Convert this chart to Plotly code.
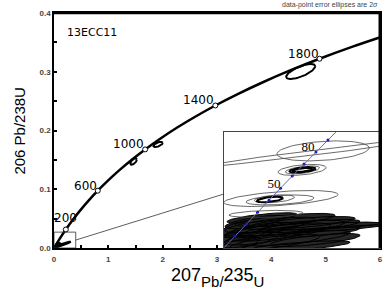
import numpy as np
import plotly.graph_objects as go

# ---------------- data ----------------
# Wetherill concordia (ages in Ma) – ratio values
conc_age = [0, 100, 200, 300, 400, 500, 600, 700, 800, 900, 1000, 1100, 1200,
            1300, 1400, 1500, 1600, 1700, 1800, 1900, 2000]
conc_x = [0.0, 0.10350, 0.21770, 0.34375, 0.48280, 0.63627, 0.80560, 0.99245,
          1.19865, 1.42638, 1.67741, 1.95463, 2.26031, 2.59772, 2.96996,
          3.38096, 3.83450, 4.33480, 4.88700, 5.49600, 6.16870]
conc_y = [0.0, 0.015633, 0.031511, 0.047638, 0.064016, 0.080650, 0.097544,
          0.11470, 0.13213, 0.14983, 0.16780, 0.18605, 0.20460, 0.22343,
          0.24258, 0.26197, 0.28171, 0.30175, 0.32211, 0.34278, 0.36375]

mark_age = [200, 600, 1000, 1400, 1800]
mark_x = [0.21770, 0.80560, 1.67741, 2.96996, 4.88700]
mark_y = [0.031511, 0.097544, 0.16780, 0.24258, 0.32211]

# inset concordia (ages 0-100 Ma)
ins_age = [0, 10, 20, 30, 40, 50, 60, 70, 80, 90, 100]
ins_x = [0.0, 0.009897, 0.019892, 0.029986, 0.040180, 0.050475, 0.060872,
         0.071371, 0.081975, 0.092683, 0.103497]
ins_y = [0.0, 0.0015525, 0.0031073, 0.0046645, 0.0062243, 0.0077865,
         0.0093512, 0.010918, 0.012488, 0.014061, 0.015633]
ins_label_age = ["50", "80"]
ins_label_x = [0.0446, 0.0749]
ins_label_y = [0.0082, 0.0130]

# main-plot error ellipses (2 sigma): centre, half-extent, correlation
main_cx = [4.54, 1.464, 1.915, 0.16]
main_cy = [0.3004, 0.1472, 0.1762, 0.0060]
main_sx = [0.267, 0.060, 0.085, 0.15]
main_sy = [0.0128, 0.0055, 0.0045, 0.0050]
main_rho = [0.70, 0.60, 0.60, 0.95]
# young grains clustering at the origin (filled blob)
blob_cx = [0.05, 0.07, 0.03]
blob_cy = [0.004, 0.005, 0.003]
blob_sx = [0.06, 0.05, 0.03]
blob_sy = [0.005, 0.004, 0.003]
blob_rho = [0.80, 0.80, 0.80]

# inset: open grey ellipses
grey_cx = [0.0883, 0.0856, 0.0696, 0.0700, 0.0508, 0.0500, 0.0450, 0.0375]
grey_cy = [0.01263, 0.0125, 0.01016, 0.01016, 0.00644, 0.00625, 0.00640, 0.00443]
grey_sx = [0.0410, 0.1200, 0.0214, 0.0152, 0.0508, 0.0303, 0.0178, 0.0330]
grey_sy = [0.00130, 0.00218, 0.00072, 0.00052, 0.00104, 0.00065, 0.00052, 0.00046]
grey_rho = [0.30, 0.99, 0.40, 0.50, 0.50, 0.40, 0.40, 0.30]
# inset: dark (thick) ellipses
dark_cx = [0.0700, 0.0700, 0.0410]
dark_cy = [0.01016, 0.01016, 0.00631]
dark_sx = [0.0116, 0.0089, 0.0116]
dark_sy = [0.00036, 0.00026, 0.00036]
dark_rho = [0.50, 0.50, 0.50]
# inset: dense cluster of young analyses
clus_cx = [0.0232, 0.0366, 0.0500, 0.0321, 0.0589, 0.0410, 0.0678, 0.0277,
           0.0544, 0.0143, 0.0767, 0.0455, 0.0633, 0.0187, 0.0856, 0.0678,
           0.0339, 0.0946, 0.0098, 0.0812, 0.0696]
clus_cy = [0.00104, 0.00156, 0.00208, 0.00234, 0.00260, 0.00299, 0.00325,
           0.00338, 0.00365, 0.00052, 0.00286, 0.00078, 0.00130, 0.00182,
           0.00208, 0.00026, 0.00391, 0.00286, 0.00260, 0.00104, 0.00221]
clus_sx = [0.0268, 0.0357, 0.0446, 0.0312, 0.0491, 0.0401, 0.0491, 0.0268,
           0.0446, 0.0178, 0.0446, 0.0401, 0.0491, 0.0223, 0.0357, 0.0446,
           0.0312, 0.0446, 0.0125, 0.0401, 0.0803]
clus_sy = [0.00102, 0.00118, 0.00118, 0.00102, 0.00102, 0.00102, 0.00085,
           0.00085, 0.00085, 0.00085, 0.00085, 0.00102, 0.00102, 0.00102,
           0.00068, 0.00068, 0.00068, 0.00051, 0.00085, 0.00085, 0.00085]
clus_rho = [0.7] * 20 + [0.95]

zoom_box = [0.0, 0.40, 0.0, 0.027]  # x0, x1, y0, y1 of the enlarged window
link_end = [3.13, 0.092]            # where the guide line meets the inset

# ---------------- helpers ----------------
def ellipses(cx, cy, sx, sy, rho, n=90):
    t = np.linspace(0, 2 * np.pi, n)
    xs, ys = [], []
    for a, b, c, d, r in zip(cx, cy, sx, sy, rho):
        xs += list(a + c * np.cos(t)) + [None]
        ys += list(b + d * (r * np.cos(t) + np.sqrt(1 - r * r) * np.sin(t))) + [None]
    return xs, ys

fig = go.Figure()

# main concordia
fig.add_trace(go.Scatter(x=conc_x, y=conc_y, mode="lines", line=dict(color="black", width=2.5, shape="spline"),
                         hoverinfo="skip", showlegend=False))

# main ellipses
ex, ey = ellipses(blob_cx, blob_cy, blob_sx, blob_sy, blob_rho)
fig.add_trace(go.Scatter(x=ex, y=ey, mode="lines", fill="toself", fillcolor="black",
                         line=dict(color="black", width=1.5), showlegend=False))
ex, ey = ellipses(main_cx, main_cy, main_sx, main_sy, main_rho)
fig.add_trace(go.Scatter(x=ex, y=ey, mode="lines", line=dict(color="black", width=2), showlegend=False))

# age markers
fig.add_trace(go.Scatter(x=mark_x, y=mark_y, mode="markers",
                         marker=dict(symbol="circle", size=5, color="white", line=dict(color="black", width=1)),
                         showlegend=False))

# inset traces
ex, ey = ellipses(clus_cx, clus_cy, clus_sx, clus_sy, clus_rho)
fig.add_trace(go.Scatter(x=ex, y=ey, mode="lines", fill="toself", fillcolor="rgba(0,0,0,0.85)",
                         line=dict(color="black", width=1), xaxis="x2", yaxis="y2", showlegend=False))
ex, ey = ellipses(grey_cx, grey_cy, grey_sx, grey_sy, grey_rho)
fig.add_trace(go.Scatter(x=ex, y=ey, mode="lines", line=dict(color="#444444", width=0.8),
                         xaxis="x2", yaxis="y2", showlegend=False))
ex, ey = ellipses(dark_cx, dark_cy, dark_sx, dark_sy, dark_rho)
fig.add_trace(go.Scatter(x=ex, y=ey, mode="lines", line=dict(color="black", width=2),
                         xaxis="x2", yaxis="y2", showlegend=False))
fig.add_trace(go.Scatter(x=ins_x, y=ins_y, mode="lines+markers",
                         line=dict(color="#6a6ab0", width=1),
                         marker=dict(size=3, color="#1a1acc"),
                         xaxis="x2", yaxis="y2", showlegend=False))
fig.add_trace(go.Scatter(x=ins_label_x, y=ins_label_y, mode="text", text=ins_label_age,
                         textfont=dict(family="Liberation Serif", size=13, color="black"),
                         xaxis="x2", yaxis="y2", showlegend=False))

# ---------------- layout ----------------
tickfont = dict(family="Liberation Sans", size=8, color="#444444", weight="bold")
fig.update_layout(
    width=388, height=294,
    margin=dict(l=54, r=8, t=13, b=46, autoexpand=False),
    paper_bgcolor="white", plot_bgcolor="white",
    showlegend=False,
    xaxis=dict(range=[0, 6], tickvals=[0, 1, 2, 3, 4, 5, 6], ticks="inside", ticklen=3, tickwidth=1.5,
               tickcolor="black", minor=dict(ticks="inside", dtick=0.5, ticklen=3, tickwidth=1.5, tickcolor="black"),
               showline=True, linecolor="black", linewidth=2, mirror=True, showgrid=False, zeroline=False,
               tickfont=tickfont, ticklabelstandoff=2, automargin=False),
    yaxis=dict(range=[0, 0.4], tickvals=[0, 0.1, 0.2, 0.3, 0.4], tickformat=".1f", ticks="inside",
               ticklen=3, tickwidth=1.5, tickcolor="black",
               minor=dict(ticks="inside", dtick=0.05, ticklen=3, tickwidth=1.5, tickcolor="black"),
               showline=True, linecolor="black", linewidth=1.5, mirror=True, showgrid=False, zeroline=False,
               tickfont=tickfont, automargin=False),
    xaxis2=dict(domain=[0.521, 1.0], anchor="y2", range=[0, 0.139], showticklabels=False, ticks="",
                showline=True, linecolor="#444444", linewidth=1, mirror=True, showgrid=False, zeroline=False,
                automargin=False),
    yaxis2=dict(domain=[0.0, 0.494], anchor="x2", range=[0, 0.0151], showticklabels=False, ticks="",
                showline=True, linecolor="#444444", linewidth=1, mirror=True, showgrid=False, zeroline=False,
                automargin=False),
)

# zoom window and guide line
fig.add_shape(type="rect", xref="x", yref="y", x0=zoom_box[0], x1=zoom_box[1], y0=zoom_box[2], y1=zoom_box[3],
              line=dict(color="#333333", width=0.8))
fig.add_shape(type="line", xref="x", yref="y", x0=zoom_box[1], y0=(zoom_box[2] + zoom_box[3]) / 2,
              x1=link_end[0], y1=link_end[1], line=dict(color="#333333", width=0.8))
# heavier right / top frame
fig.add_shape(type="line", xref="paper", yref="paper", x0=1, x1=1, y0=0, y1=1, line=dict(color="black", width=3))
fig.add_shape(type="line", xref="paper", yref="paper", x0=0, x1=1, y0=1, y1=1, line=dict(color="black", width=2.5))

# age labels
for a, x, y in zip(mark_age, mark_x, mark_y):
    if a == 200:
        fig.add_annotation(x=x, y=y, text=str(a), showarrow=False, xanchor="center", yanchor="bottom",
                           yshift=2, font=dict(family="DejaVu Sans", size=12, color="black"))
    else:
        fig.add_annotation(x=x, y=y, text=str(a), showarrow=False, xanchor="right", yanchor="bottom",
                           xshift=1, yshift=-4, font=dict(family="DejaVu Sans", size=12, color="black"))

fig.add_annotation(xref="paper", yref="paper", x=0.034, y=0.917, text="13ECC11", showarrow=False,
                   xanchor="left", yanchor="middle", font=dict(family="DejaVu Sans", size=11, color="black"))
fig.add_annotation(xref="paper", yref="paper", x=1.0, y=1.036, text="data-point error ellipses are 2σ",
                   showarrow=False, xanchor="right", yanchor="middle",
                   font=dict(family="Liberation Sans", size=7, color="#444444"))

big = '<sup><span style="font-size:18px">{}</span></sup>'
fig.add_annotation(xref="paper", yref="paper", x=0.5, y=-0.125,
                   text=big.format("207") + "Pb/" + big.format("235") + "U",
                   showarrow=False, xanchor="center", yanchor="middle",
                   font=dict(family="Liberation Sans", size=15, color="black"))
fig.add_annotation(xref="paper", yref="paper", x=-0.107, y=0.5, text="206 Pb/238U", textangle=-90,
                   showarrow=False, xanchor="center", yanchor="middle",
                   font=dict(family="Liberation Sans", size=15, color="black"))

fig.write_html("out.html", config={"displayModeBar": False},
               post_script="document.body.style.margin='0px';")
